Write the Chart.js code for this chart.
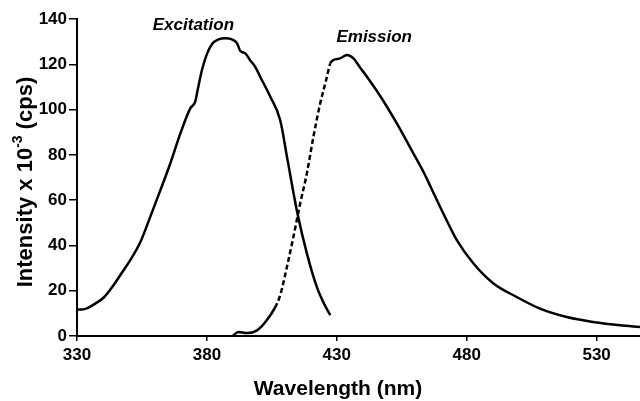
<!DOCTYPE html>
<html>
<head>
<meta charset="utf-8">
<script src="https://cdn.jsdelivr.net/npm/chart.js@4.4.1/dist/chart.umd.min.js"></script>
<style>
  html, body { margin: 0; padding: 0; background: #fff; }
  #wrap { width: 640px; height: 401px; position: relative; }
</style>
</head>
<body>
<div id="wrap"><canvas id="c"></canvas></div>
<script>
// Excitation spectrum (nm, intensity x 10^-3 cps)
const EXC_NM = [330, 332, 334, 337, 340.3, 344.1, 347, 350.5, 354.4, 358.2, 362.1, 365.9, 369.8, 373.6, 375.5,
  376.5, 378.1, 380, 382, 384.5, 387.1, 389.6, 391.6, 392.8, 394.8, 396.7, 398.6, 400.5, 404.4, 408.2,
  411, 414.7, 418.5, 422.3, 425, 427.5];
const EXC_VAL = [11.7, 11.7, 12.3, 14.3, 17.0, 22.5, 27.5, 33.5, 41.5, 52.6, 64.4, 76.2, 89.5, 100.5, 103.5,
  109, 117.5, 124.5, 129.0, 131, 131.5, 131, 129.3, 126, 124.8, 121.7, 118.9, 114.5, 105.7, 95.4,
  78, 55, 36.4, 21.7, 14.5, 9.2];

// Emission spectrum
const EM_NM = [389.9, 392.1, 395.4, 399.3, 402.5, 406.2, 408.2, 410.8, 413.3, 415.9, 418.5, 421, 423.6, 426,
  427.5, 428.7, 431.3, 433.9, 436.4, 439, 441.6, 446.7, 453.1, 459.5, 464, 466.1, 471, 476.2, 482.6,
  490.3, 499.3, 508.2, 518.5, 528.7, 539, 546.7];
const EM_VAL = [0, 1.8, 1.3, 2.5, 6.2, 12.5, 18, 30.5, 43.8, 58.5, 72, 88, 102.7, 113.5,
  120.4, 121.9, 122.6, 124.1, 122.6, 118.5, 114.5, 106, 93.9, 80.6, 71, 65.9, 54.1, 42.3, 32.0,
  23.2, 17.2, 12.1, 8.4, 6.2, 4.7, 4.0];

// emission section drawn dashed in the original
const EM_DASH_FROM = 403;
const EM_DASH_TO = 428;

const X_TICKS = [330, 380, 430, 480, 530];
const X_MIN = 330, X_MAX = 546.7;
const Y_MIN = 0, Y_MAX = 140, Y_STEP = 20;

const EXC_LABEL = { text: "Excitation", x: 374.8, y: 137.4 };
const EM_LABEL = { text: "Emission", x: 444.4, y: 132.1 };

const FONT = "'Liberation Sans', Arial, Helvetica, sans-serif";

function toPoints(xs, ys) {
  return xs.map((x, i) => ({ x, y: ys[i] }));
}

// axis titles (with the 10^-3 superscript) and curve labels
const titlesPlugin = {
  id: "titles",
  afterDraw(chart) {
    const ctx = chart.ctx;
    const xs = chart.scales.x, ys = chart.scales.y;
    ctx.save();
    ctx.fillStyle = "#000";

    // x title
    ctx.font = "bold 21px " + FONT;
    ctx.textAlign = "center";
    ctx.textBaseline = "middle";
    ctx.fillText("Wavelength (nm)", 338, 389);

    // y title, rotated
    const big = "bold 22px " + FONT, small = "bold 14px " + FONT;
    const p1 = "Intensity x 10", p2 = "-3", p3 = " (cps)";
    ctx.font = big;
    const w1 = ctx.measureText(p1).width, w3 = ctx.measureText(p3).width;
    ctx.font = small;
    const w2 = ctx.measureText(p2).width;
    const total = w1 + w2 + w3;
    ctx.translate(24, 182);
    ctx.rotate(-Math.PI / 2);
    ctx.textAlign = "left";
    ctx.textBaseline = "alphabetic";
    let cx = -total / 2;
    ctx.font = big;
    ctx.fillText(p1, cx, 8);
    cx += w1;
    ctx.font = small;
    ctx.fillText(p2, cx, -2);
    cx += w2;
    ctx.font = big;
    ctx.fillText(p3, cx, 8);
    ctx.setTransform(1, 0, 0, 1, 0, 0);

    // curve labels
    ctx.font = "italic bold 17px " + FONT;
    ctx.textAlign = "center";
    ctx.textBaseline = "middle";
    [EXC_LABEL, EM_LABEL].forEach(l => {
      ctx.fillText(l.text, xs.getPixelForValue(l.x), ys.getPixelForValue(l.y));
    });
    ctx.restore();
  }
};

const dashed = c =>
  (c.p0.parsed.x >= EM_DASH_FROM && c.p1.parsed.x <= EM_DASH_TO) ? [5, 3] : undefined;

new Chart(document.getElementById("c"), {
  type: "line",
  data: {
    datasets: [
      {
        label: "Excitation",
        data: toPoints(EXC_NM, EXC_VAL),
        borderColor: "#000", borderWidth: 2.5,
        pointRadius: 0, cubicInterpolationMode: "monotone", fill: false,
      },
      {
        label: "Emission",
        data: toPoints(EM_NM, EM_VAL),
        borderColor: "#000", borderWidth: 2.5,
        pointRadius: 0, cubicInterpolationMode: "monotone", fill: false,
        segment: { borderDash: dashed },
      },
    ],
  },
  options: {
    responsive: true,
    maintainAspectRatio: false,
    animation: false,
    devicePixelRatio: 1,
    layout: { padding: { top: 19, right: 0, bottom: 0, left: 0 } },
    plugins: { legend: { display: false }, tooltip: { enabled: false } },
    scales: {
      x: {
        type: "linear",
        min: X_MIN, max: X_MAX,
        afterBuildTicks: axis => { axis.ticks = X_TICKS.map(v => ({ value: v })); },
        afterFit: axis => { axis.height = 65; },
        grid: { drawOnChartArea: false, drawTicks: true, tickLength: 5, color: "#000", lineWidth: 1.5 },
        border: { display: true, color: "#000", width: 2 },
        ticks: { color: "#000", font: { family: FONT, size: 17, weight: "bold" }, padding: 4, maxRotation: 0 },
      },
      y: {
        min: Y_MIN, max: Y_MAX,
        afterFit: axis => { axis.width = 77; },
        grid: { drawOnChartArea: false, drawTicks: true, tickLength: 8, color: "#000", lineWidth: 1.5 },
        border: { display: true, color: "#000", width: 2 },
        ticks: { stepSize: Y_STEP, color: "#000", font: { family: FONT, size: 17, weight: "bold" }, padding: 2 },
      },
    },
  },
  plugins: [titlesPlugin],
});
</script>
</body>
</html>
